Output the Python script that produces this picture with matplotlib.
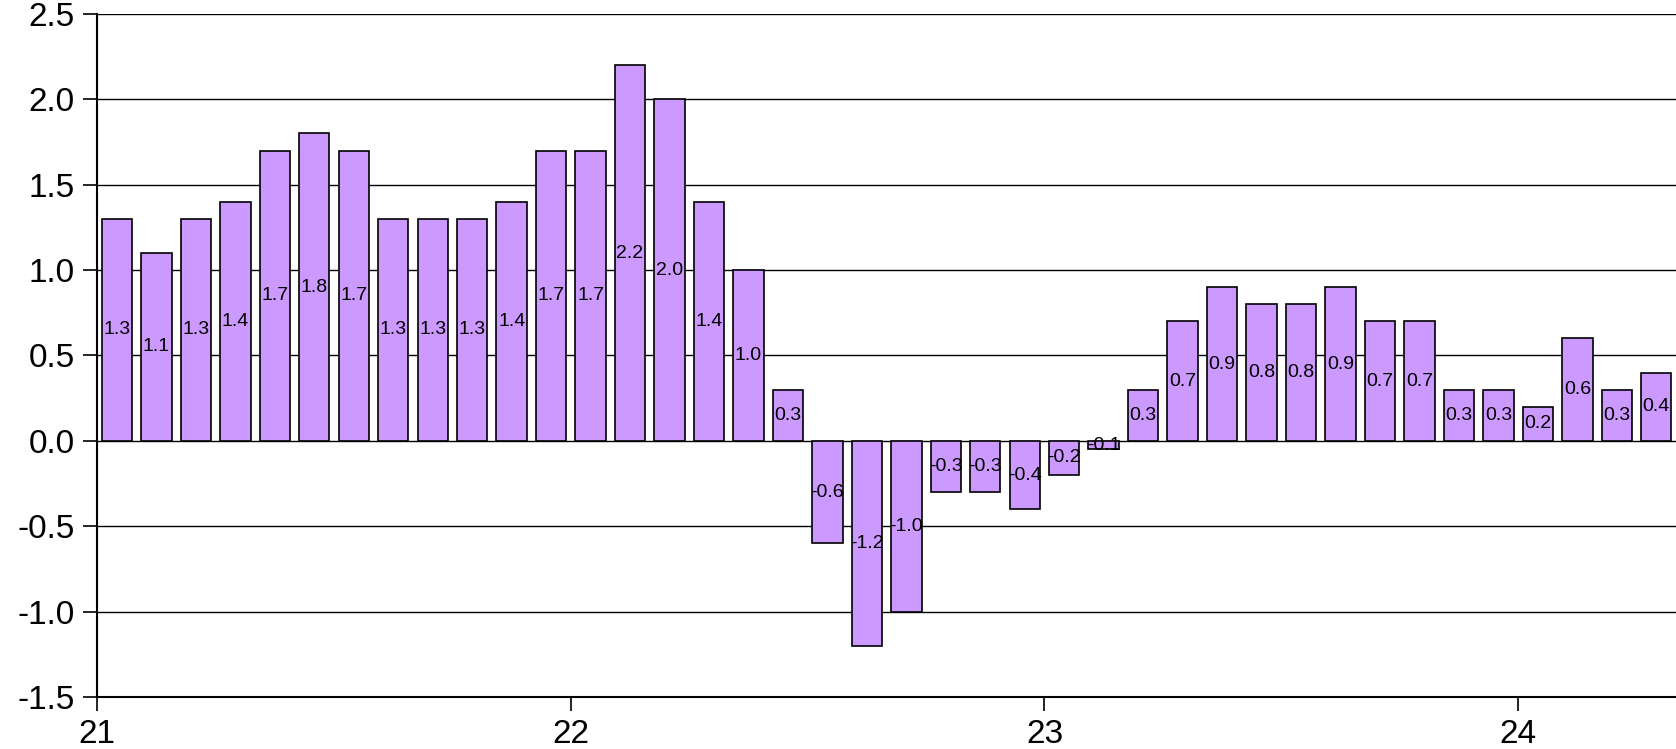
import matplotlib.pyplot as plt
import numpy as np

# monthly values, 12 bars per year starting at 21
values = [1.3, 1.1, 1.3, 1.4, 1.7, 1.8, 1.7, 1.3, 1.3, 1.3, 1.4, 1.7,
          1.7, 2.2, 2.0, 1.4, 1.0, 0.3, -0.6, -1.2, -1.0, -0.3, -0.3, -0.4,
          -0.2, -0.05, 0.3, 0.7, 0.9, 0.8, 0.8, 0.9, 0.7, 0.7, 0.3, 0.3,
          0.2, 0.6, 0.3, 0.4]
year_labels = ["21", "22", "23", "24"]

plt.rcParams["font.family"] = ["Liberation Sans", "DejaVu Sans"]

fig = plt.figure(figsize=(16.76, 7.49), dpi=100)
ax = fig.add_axes([0.058, 0.0694, 0.942, 0.912])

x = np.arange(len(values)) + 0.5
ax.set_axisbelow(True)
ax.grid(axis="y", color="black", linewidth=1.0)
ax.bar(x, values, width=0.77, color="#CC99FF", edgecolor="black", linewidth=1.2, zorder=2)

for xi, v in zip(x, values):
    ax.text(xi, v / 2, f"{v:.1f}", ha="center", va="center", fontsize=14, zorder=3)

ax.set_xlim(0, len(values))
ax.set_ylim(-1.5, 2.5)
ax.set_yticks(np.arange(-1.5, 2.51, 0.5))
ax.set_yticklabels([f"{t:.1f}" for t in np.arange(-1.5, 2.51, 0.5)])
ax.set_xticks(np.arange(0, len(values), 12))
ax.set_xticklabels(year_labels)
ax.tick_params(axis="both", labelsize=24, length=10, width=1.2, direction="out")
ax.tick_params(axis="x", pad=6)
ax.tick_params(axis="y", pad=6)

for s in ["top", "right"]:
    ax.spines[s].set_visible(False)
ax.spines["left"].set_linewidth(1.5)
ax.spines["bottom"].set_linewidth(1.5)

fig.savefig("out.png", dpi=100)
